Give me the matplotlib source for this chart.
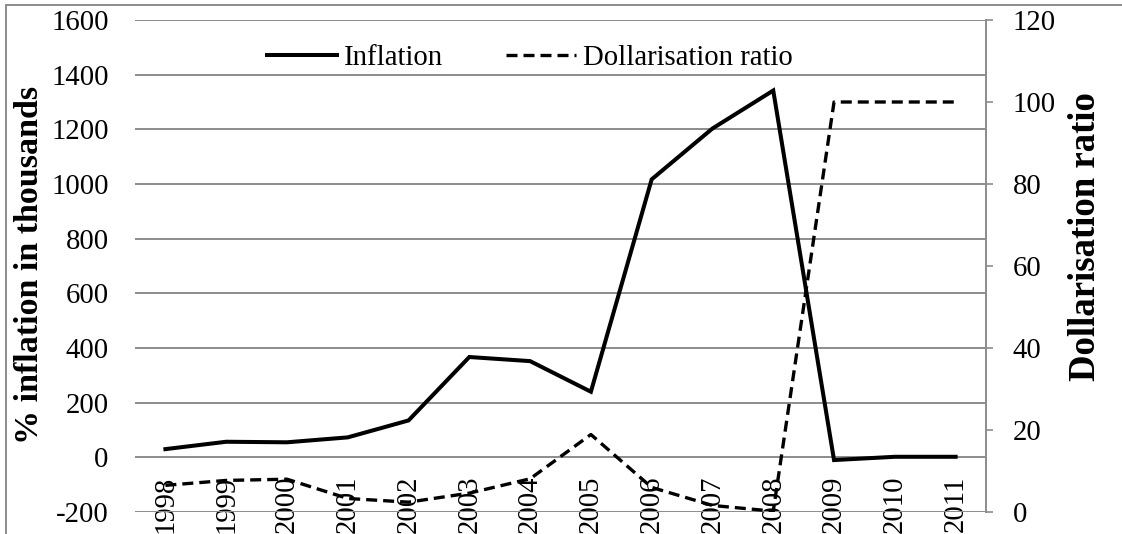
import numpy as np
import matplotlib.pyplot as plt
from matplotlib.patches import Rectangle

# Données
years = ['1998', '1999', '2000', '2001', '2002', '2003', '2004',
         '2005', '2006', '2007', '2008', '2009', '2010', '2011']
inflation = [30, 57, 55, 73, 135, 367, 352, 240, 1017, 1203, 1342, -10, 2, 2]
dollarisation = [6.5, 7.7, 8.0, 3.3, 2.4, 4.6, 8.1, 18.9, 6.0, 1.6, 0.2, 100, 100, 100]

left_ticks = np.arange(-200, 1601, 200)
right_ticks = np.arange(0, 121, 20)

plt.rcParams['font.family'] = ['Liberation Serif', 'DejaVu Serif']
plt.rcParams['font.size'] = 20.7
grey = '#8c8c8c'

fig = plt.figure(figsize=(11.22, 5.34), dpi=100)
ax = fig.add_axes([135 / 1122, 1 - 512 / 534, 851 / 1122, 492 / 534])
ax2 = ax.twinx()

x = np.arange(len(years))

# Courbes
l1, = ax.plot(x, inflation, color='black', lw=2.9, solid_joinstyle='miter', label='Inflation')
l2, = ax2.plot(x, dollarisation, color='black', lw=2.4, dashes=(3.3, 1.8), label='Dollarisation ratio')

# Axe de gauche
ax.set_xlim(-0.5, len(years) - 0.5)
ax.set_ylim(-200, 1600)
ax.set_yticks(left_ticks)
ax.set_yticklabels([str(v) for v in left_ticks])
ax.tick_params(axis='y', length=0, pad=19)
ax.grid(axis='y', color=grey, lw=1.4)
ax.set_axisbelow(True)
ax.set_ylabel('% inflation in thousands', fontweight='bold', fontsize=24.5)
ax.yaxis.set_label_coords(-0.1058, 0.502)

# Étiquettes des années (au-dessus de l'axe du bas)
ax.set_xticks(x)
ax.set_xticklabels(years, rotation=90)
ax.tick_params(axis='x', length=0, pad=-26)

# Axe de droite
ax2.set_ylim(0, 120)
ax2.set_yticks(right_ticks)
ax2.set_yticklabels([str(v) for v in right_ticks])
ax2.tick_params(axis='y', length=5, width=1.2, color=grey, pad=14)
ax2.set_ylabel('Dollarisation ratio', fontweight='bold', fontsize=26.5)
ax2.yaxis.set_label_coords(1.0964, 0.559)

for a in (ax, ax2):
    for s in ['top', 'left', 'bottom']:
        a.spines[s].set_visible(False)
ax.spines['right'].set_visible(False)
ax2.spines['right'].set_color(grey)
ax2.spines['right'].set_linewidth(1.4)

# Légende
ax2.legend(handles=[l1, l2], loc='center', bbox_to_anchor=(0.464, 0.923), ncol=2,
           frameon=False, handlelength=2.43, handletextpad=0.24, columnspacing=2.2,
           fontsize=20.7)

# Cadre du graphique
fig.patches.append(Rectangle((6 / 1122, -0.1), 1.2, 1.1 - 5 / 534, transform=fig.transFigure,
                             fill=False, edgecolor=grey, lw=1.4))

fig.savefig('out.png', dpi=100)
